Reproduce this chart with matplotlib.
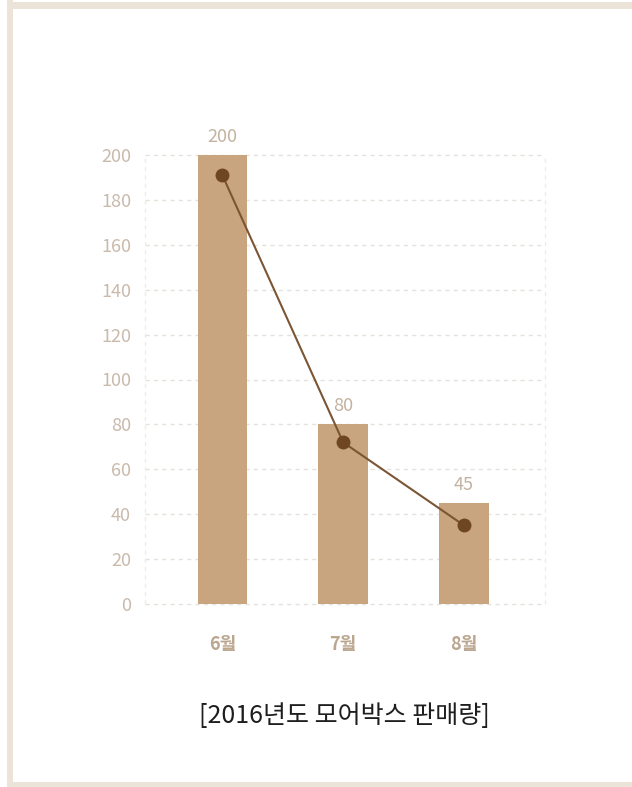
import matplotlib
matplotlib.use("Agg")
import matplotlib.pyplot as plt
from matplotlib.patches import Rectangle

plt.rcParams['font.family'] = ['Noto Sans CJK KR', 'DejaVu Sans']

months = ['6월', '7월', '8월']
sales = [200, 80, 45]
trend = [191, 72, 35]
yticks = [0, 20, 40, 60, 80, 100, 120, 140, 160, 180, 200]

W, H = 632, 787
fig = plt.figure(figsize=(W / 100, H / 100), dpi=100)

# beige frame (left, top, bottom)
frame_c = '#ece3d9'
fig.add_artist(Rectangle((7 / W, 0), 6 / W, 1, transform=fig.transFigure, color=frame_c, lw=0))
fig.add_artist(Rectangle((7 / W, 1 - 9 / H), 1, 7 / H, transform=fig.transFigure, color=frame_c, lw=0))
fig.add_artist(Rectangle((7 / W, 0), 1, 5 / H, transform=fig.transFigure, color=frame_c, lw=0))

ax = fig.add_axes([145 / W, (H - 604) / H, 400 / W, 449 / H])
x = list(range(len(months)))

for t in yticks:
    ax.axhline(t, color='#e6e1dc', lw=1, ls=(0, (3, 3)), clip_on=False, zorder=0)
ax.axvline(-0.64, color='#efebe7', lw=1, ls=(0, (3, 3)), clip_on=False, zorder=0)
ax.axvline(2.67, color='#efebe7', lw=1, ls=(0, (3, 3)), clip_on=False, zorder=0)

bars = ax.bar(x, sales, width=0.41, color='#c8a47f', zorder=2)
for xi, v in zip(x, sales):
    ax.text(xi, v + 4, str(v), ha='center', va='bottom', fontsize=13,
            fontweight='medium', color='#c4b2a0')

ax.plot(x, trend, color='#7b5534', lw=1.5, marker='o', markersize=9,
        markerfacecolor='#6e4622', markeredgecolor='#6e4622', zorder=3)

ax.set_xlim(-0.64, 2.67)
ax.set_ylim(0, 200)
ax.set_yticks(yticks)
ax.set_yticklabels([str(t) for t in yticks], fontsize=13, fontweight='medium', color='#c9baab')
ax.set_xticks(x)
ax.set_xticklabels(months, fontsize=13, color='#bba68f', fontweight='bold')
ax.tick_params(axis='y', length=0, pad=10)
ax.tick_params(axis='x', length=0, pad=22)
for s in ax.spines.values():
    s.set_visible(False)

fig.text(344 / W, 1 - 716 / H, '[2016년도 모어박스 판매량]', ha='center', va='center',
         fontsize=18, fontweight='light', color='#1e1e1e')

fig.savefig('out.png', dpi=100, facecolor='white')
